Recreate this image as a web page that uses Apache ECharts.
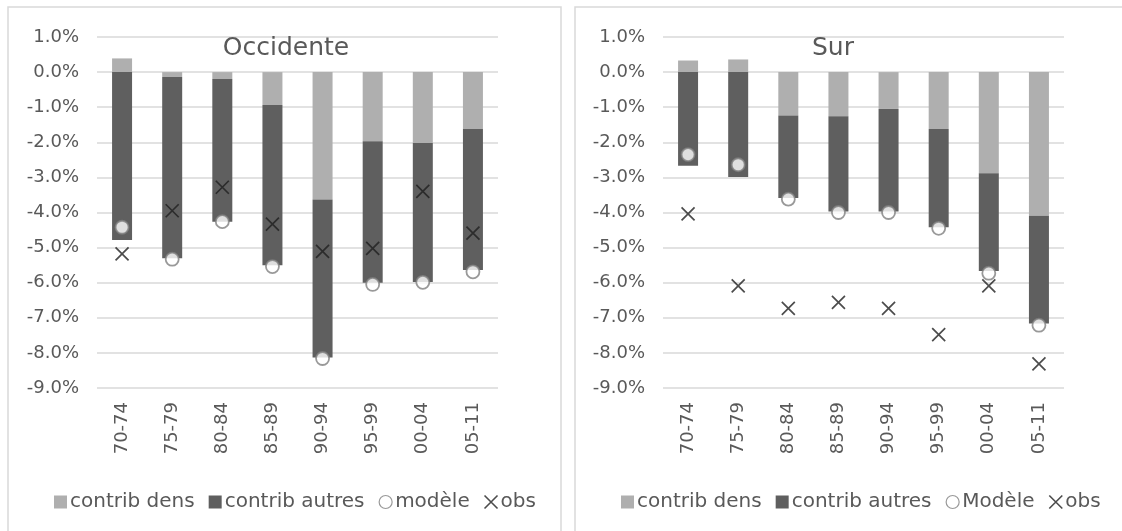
<!DOCTYPE html>
<html>
<head>
<meta charset="utf-8">
<script src="https://cdn.jsdelivr.net/npm/echarts@6/dist/echarts.min.js"></script>
<style>
    html, body { margin: 0; padding: 0; background: #fff; }
    #chart { width: 1122px; height: 531px; }
</style>
</head>
<body>
<div id="chart"></div>
<script>
const categories = ['70-74', '75-79', '80-84', '85-89', '90-94', '95-99', '00-04', '05-11'];
const yTicks = { min: -9, max: 1, step: 1 };

// Occidente
const densOcc = [0.39, -0.14, -0.20, -0.94, -3.63, -1.97, -2.02, -1.62];
const autresOcc = [-4.78, -5.16, -4.06, -4.56, -4.50, -4.03, -3.96, -4.02];
const modeleOcc = [-4.42, -5.33, -4.26, -5.54, -8.16, -6.05, -5.99, -5.69];
const obsOcc = [-5.18, -3.95, -3.28, -4.33, -5.11, -5.02, -3.40, -4.59];

// Sur
const densSur = [0.33, 0.36, -1.24, -1.26, -1.05, -1.62, -2.88, -4.09];
const autresSur = [-2.67, -2.99, -2.35, -2.71, -2.92, -2.80, -2.79, -3.07];
const modeleSur = [-2.35, -2.64, -3.62, -4.00, -4.00, -4.45, -5.73, -7.21];
const obsSur = [-4.04, -6.09, -6.73, -6.56, -6.73, -7.48, -6.09, -8.31];

const color = {
    text: '#595959',
    grid: '#d9d9d9',
    dens: '#afafaf',
    autres: '#5f5f5f',
    circle: '#7f7f7f',
    cross: '#1f1f1f',
}
const font = 'DejaVu Sans';
const crossPath = 'path://M0,0L10,10M10,0L0,10';

const chart = echarts.init(document.getElementById('chart'), null, { renderer: 'canvas' });

const makeGrid = function (left) {
    return { left: left, top: 37, width: 401, height: 351 };
}
const makeX = function (i) {
    return {
        type: 'category',
        gridIndex: i,
        data: categories,
        axisLine: { show: false },
        axisTick: { show: false },
        axisLabel: {
            rotate: 90,
            margin: 14,
            color: color.text,
            fontFamily: font,
            fontSize: 18,
        },
    }
}
const makeY = function (i) {
    return {
        type: 'value',
        gridIndex: i,
        min: yTicks.min,
        max: yTicks.max,
        interval: yTicks.step,
        axisLine: { show: false },
        axisTick: { show: false },
        splitLine: { lineStyle: { color: color.grid, width: 1.5 } },
        axisLabel: {
            margin: 18,
            color: color.text,
            fontFamily: font,
            fontSize: 18,
            formatter: (v) => v.toFixed(1) + '%',
        },
    }
}
const makeSeries = function (i, dens, autres, modele, obs, modeleName) {
    return [
        {
            name: 'contrib dens', type: 'bar', stack: 's' + i,
            xAxisIndex: i, yAxisIndex: i, barWidth: 20,
            itemStyle: { color: color.dens }, data: dens,
        },
        {
            name: 'contrib autres', type: 'bar', stack: 's' + i,
            xAxisIndex: i, yAxisIndex: i, barWidth: 20,
            itemStyle: { color: color.autres }, data: autres,
        },
        {
            name: modeleName, type: 'scatter', xAxisIndex: i, yAxisIndex: i,
            symbol: 'circle', symbolSize: 13, z: 5,
            itemStyle: { color: '#fff', borderColor: color.circle, borderWidth: 1.8 },
            data: modele,
        },
        {
            name: 'obs', type: 'scatter', xAxisIndex: i, yAxisIndex: i,
            symbol: crossPath, symbolSize: 13, z: 6,
            itemStyle: { color: 'rgba(0,0,0,0)', borderColor: color.cross, borderWidth: 1.7 },
            data: obs,
        },
    ]
}
const makeLegend = function (left, modeleName) {
    return {
        left: left, top: 487,
        itemWidth: 13, itemHeight: 13, itemGap: 14,
        textStyle: { color: color.text, fontFamily: font, fontSize: 20, padding: [0, 0, 0, -2] },
        data: [
            { name: 'contrib dens', icon: 'rect' },
            { name: 'contrib autres', icon: 'rect' },
            { name: modeleName, icon: 'circle', itemStyle: { color: '#fff', borderColor: color.circle, borderWidth: 1.2 } },
            { name: 'obs', icon: crossPath, itemStyle: { color: 'rgba(0,0,0,0)', borderColor: color.cross, borderWidth: 1.6 } },
        ],
    }
}

chart.setOption({
    animation: false,
    graphic: [
        { type: 'rect', shape: { x: 8, y: 7, width: 553, height: 540 }, style: { fill: 'none', stroke: color.grid, lineWidth: 1.5 }, silent: true },
        { type: 'rect', shape: { x: 575, y: 7, width: 560, height: 540 }, style: { fill: 'none', stroke: color.grid, lineWidth: 1.5 }, silent: true },
    ],
    title: [
        { text: 'Occidente', left: 281, top: 31, textAlign: 'center', textStyle: { color: color.text, fontFamily: font, fontSize: 25, fontWeight: 'normal' } },
        { text: 'Sur', left: 828, top: 31, textAlign: 'center', textStyle: { color: color.text, fontFamily: font, fontSize: 25, fontWeight: 'normal' } },
    ],
    legend: [makeLegend(49, 'modèle'), makeLegend(616, 'Modèle')],
    grid: [makeGrid(97), makeGrid(663)],
    xAxis: [makeX(0), makeX(1)],
    yAxis: [makeY(0), makeY(1)],
    series: [
        ...makeSeries(0, densOcc, autresOcc, modeleOcc, obsOcc, 'modèle'),
        ...makeSeries(1, densSur, autresSur, modeleSur, obsSur, 'Modèle'),
    ],
});
</script>
</body>
</html>
